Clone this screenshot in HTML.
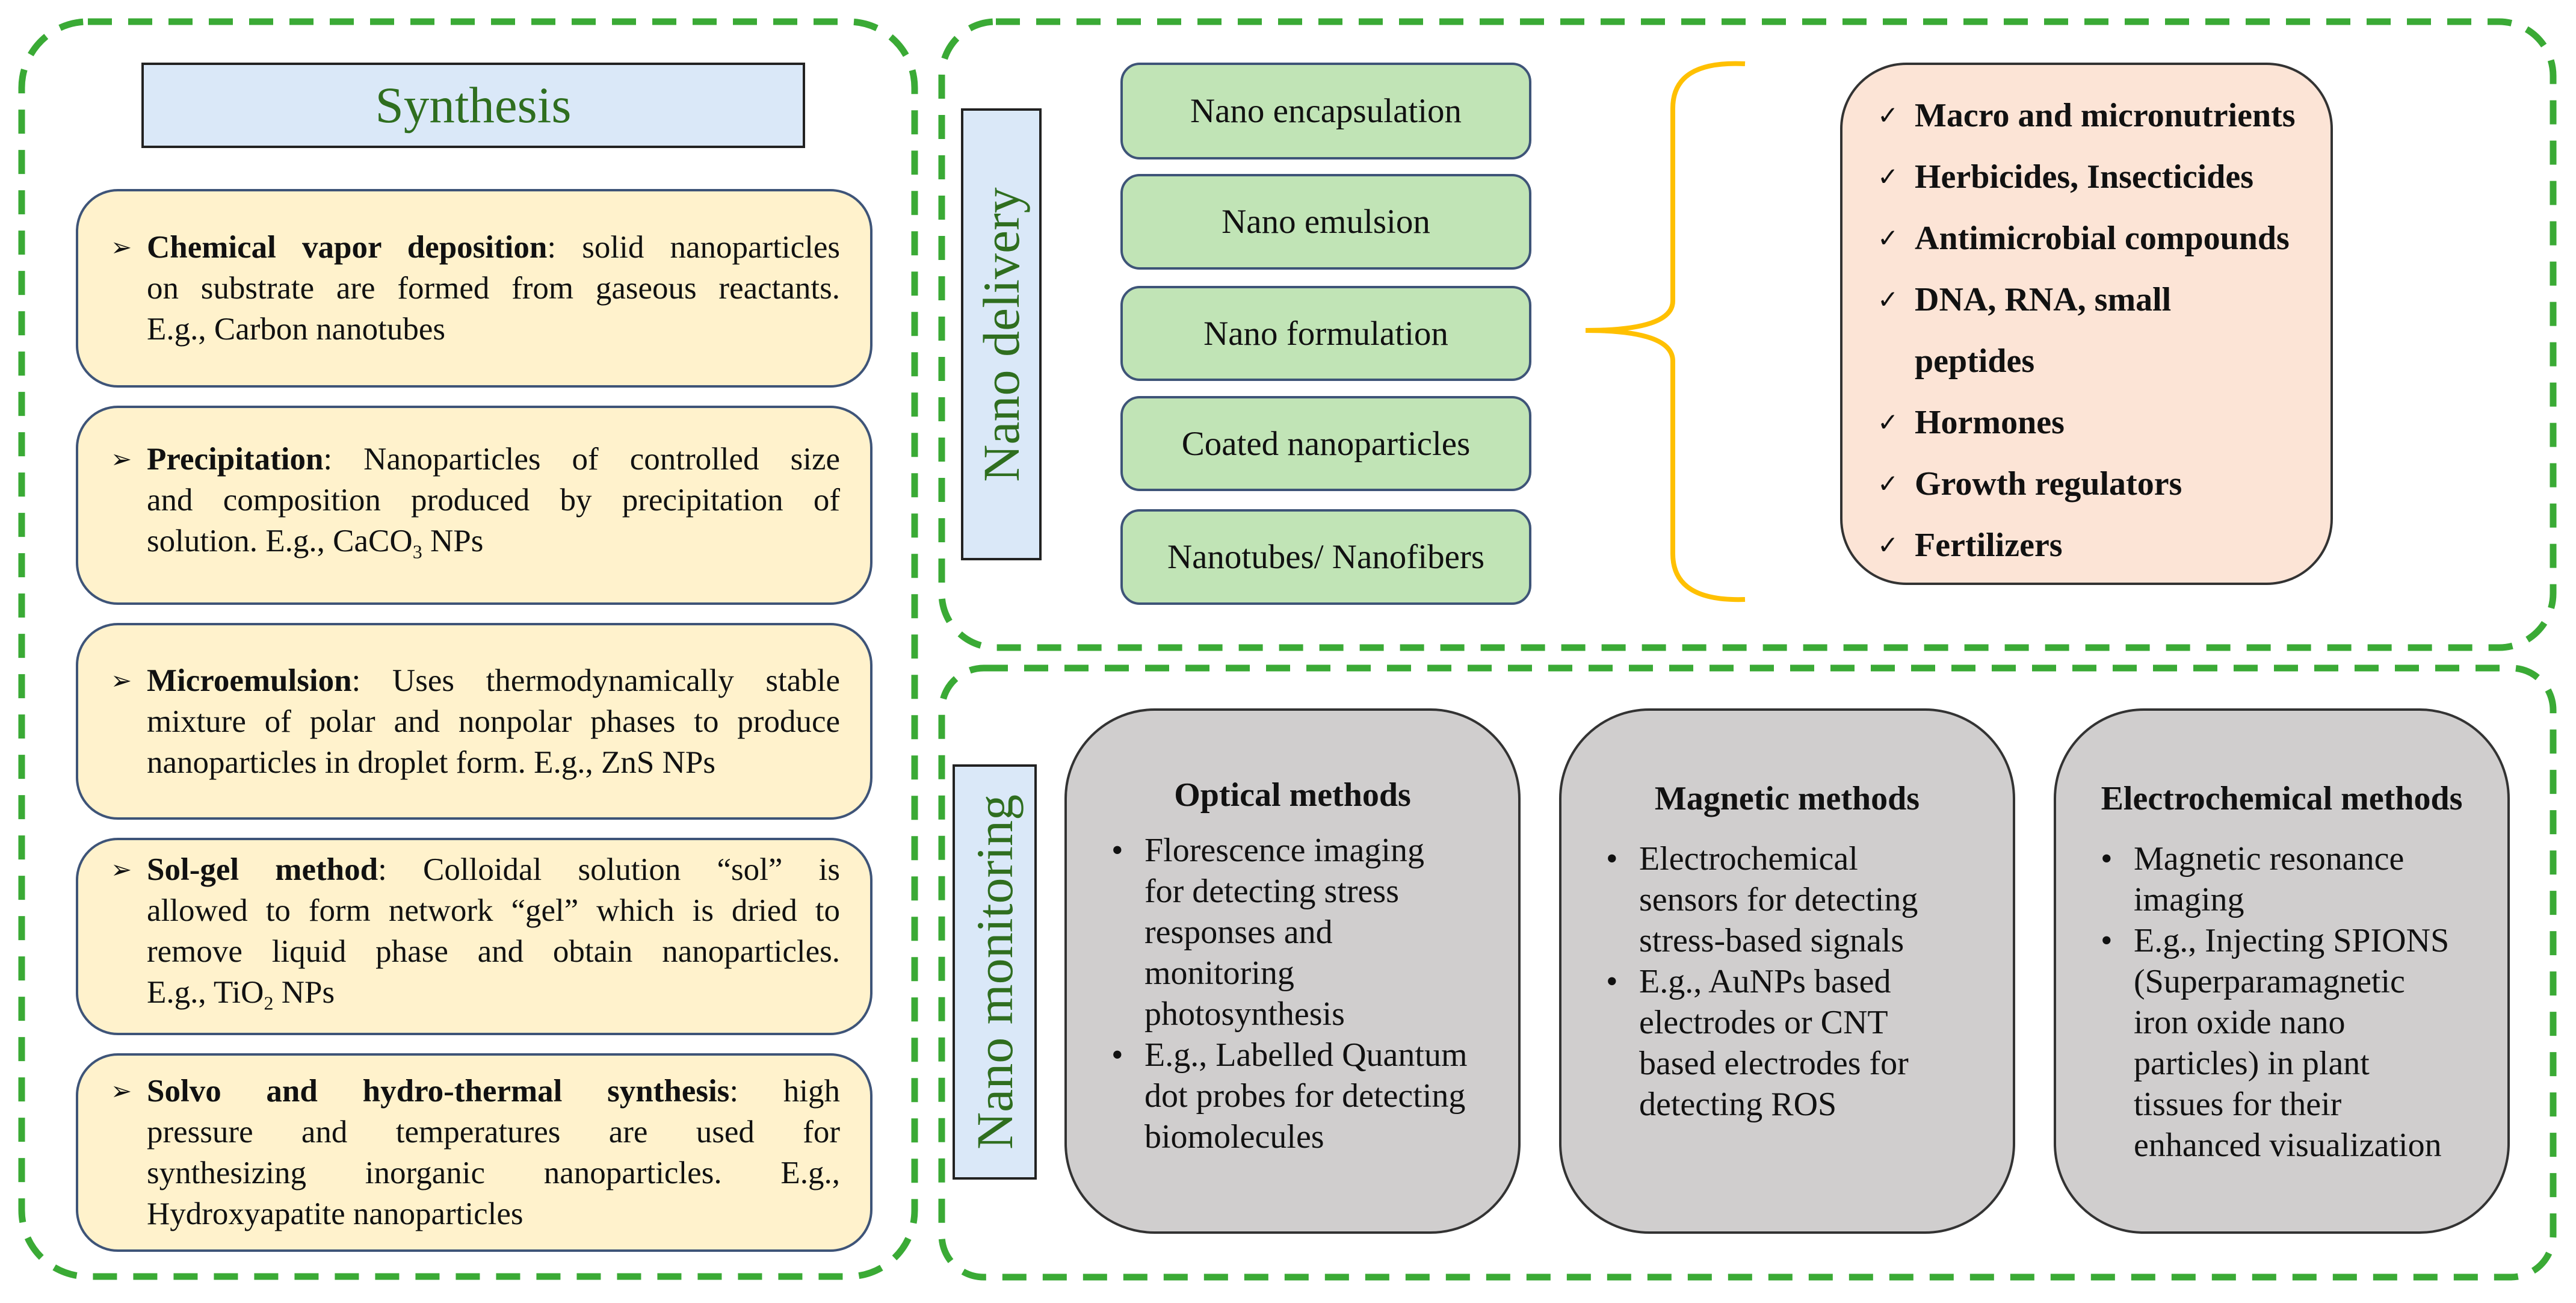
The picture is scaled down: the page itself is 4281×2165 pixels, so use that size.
<!DOCTYPE html>
<html><head><meta charset="utf-8"><style>
*{margin:0;padding:0;box-sizing:border-box}
body{width:4281px;height:2165px;background:#fff;position:relative;overflow:hidden;font-family:"Liberation Serif",serif;color:#111}
.a{position:absolute}
.syn{left:235px;top:104px;width:1103px;height:142px;background:#dae8f8;border:4px solid #222;display:flex;align-items:center;justify-content:center;color:#2f6e1f;font-size:85px}
.y{position:absolute;left:126px;width:1324px;background:#fff2cc;border:4px solid #3e5478;border-radius:70px;display:flex;align-items:center;padding:0 50px 0 54px;font-size:53px;line-height:68px}
.y .t{padding-left:60px;position:relative;width:100%;white-space:nowrap}
.y .t div{text-align:justify;text-align-last:justify}
.y .t div.l{text-align-last:left}
.y .t:before{content:"\27A2";position:absolute;left:0;top:0;font-size:42px;font-family:"DejaVu Sans",sans-serif}
.g{position:absolute;left:1862px;width:683px;background:#c1e4b6;border:4px solid #3e5478;border-radius:32px;display:flex;align-items:center;justify-content:center;font-size:57px}
.vl{position:absolute;background:#dae8f8;border:4px solid #222;}
.vl span{position:absolute;left:50%;top:50%;transform:translate(-50%,-50%) rotate(-90deg);white-space:nowrap;color:#2f6e1f;font-size:86px}
.pe{left:3058px;top:104px;width:819px;height:868px;background:#fce4d6;border:4px solid #333;border-radius:110px;padding:50px 0 0 58px;font-weight:bold;font-size:56px;white-space:nowrap}
.pe div{height:102px;line-height:68px;position:relative;padding-left:62px}
.pe div.c:before{content:"\2713";position:absolute;left:0;font-weight:normal;font-family:"DejaVu Sans",sans-serif;font-size:42px}
.gr{position:absolute;top:1177px;height:873px;width:758px;background:#d0cece;border:4px solid #333;border-radius:150px;font-size:56px;line-height:68px;padding:0 20px 0 74px;white-space:nowrap}
.gr h3{font-size:56px;text-align:center;margin-left:-54px;line-height:68px}
.gr ul{list-style:none}
.gr li{position:relative;padding-left:55px}
.gr li:before{content:"\2022";position:absolute;left:0}
</style></head><body>
<svg class="a" style="left:0;top:0" width="4281" height="2165">
<g fill="none" stroke="#3aaa35" stroke-width="11" stroke-dasharray="40 27">
<rect x="36" y="36" width="1484" height="2085" rx="110"/>
<rect x="1565" y="36" width="2678" height="1040" rx="90"/>
<rect x="1565" y="1110" width="2678" height="1012" rx="70"/>
</g>
<path d="M2900 106 Q2780 100 2780 180 L2780 500 Q2780 549 2635 549 Q2780 549 2780 600 L2780 920 Q2780 1000 2900 996" fill="none" stroke="#ffc000" stroke-width="8"/>
</svg>
<div class="a syn">Synthesis</div>
<div class="y" style="top:314px;height:330px"><div class="t"><div><b>Chemical vapor deposition</b>: solid nanoparticles</div><div>on substrate are formed from gaseous reactants.</div><div class="l">E.g., Carbon nanotubes</div></div></div>
<div class="y" style="top:674px;height:331px"><div class="t"><div><b>Precipitation</b>: Nanoparticles of controlled size</div><div>and composition produced by precipitation of</div><div class="l">solution. E.g., CaCO<sub style="font-size:32px">3</sub> NPs</div></div></div>
<div class="y" style="top:1035px;height:327px"><div class="t"><div><b>Microemulsion</b>: Uses thermodynamically stable</div><div>mixture of polar and nonpolar phases to produce</div><div class="l">nanoparticles in droplet form. E.g., ZnS NPs</div></div></div>
<div class="y" style="top:1392px;height:328px"><div class="t"><div><b>Sol-gel method</b>: Colloidal solution “sol” is</div><div>allowed to form network “gel” which is dried to</div><div>remove liquid phase and obtain nanoparticles.</div><div class="l">E.g., TiO<sub style="font-size:32px">2</sub> NPs</div></div></div>
<div class="y" style="top:1750px;height:330px"><div class="t"><div><b>Solvo and hydro-thermal synthesis</b>: high</div><div>pressure and temperatures are used for</div><div>synthesizing inorganic nanoparticles. E.g.,</div><div class="l">Hydroxyapatite nanoparticles</div></div></div>

<div class="vl" style="left:1597px;top:180px;width:134px;height:751px"><span>Nano delivery</span></div>
<div class="g" style="top:104px;height:161px">Nano encapsulation</div>
<div class="g" style="top:289px;height:159px">Nano emulsion</div>
<div class="g" style="top:475px;height:158px">Nano formulation</div>
<div class="g" style="top:658px;height:158px">Coated nanoparticles</div>
<div class="g" style="top:846px;height:159px">Nanotubes/ Nanofibers</div>
<div class="a pe">
<div class="c">Macro and micronutrients</div>
<div class="c">Herbicides, Insecticides</div>
<div class="c">Antimicrobial compounds</div>
<div class="c">DNA, RNA, small</div>
<div>peptides</div>
<div class="c">Hormones</div>
<div class="c">Growth regulators</div>
<div class="c">Fertilizers</div>
</div>

<div class="vl" style="left:1583px;top:1270px;width:140px;height:690px"><span>Nano monitoring</span></div>
<div class="gr" style="left:1769px;padding-top:106px"><h3>Optical methods</h3><ul style="margin-top:24px"><li>Florescence imaging<br>for detecting stress<br>responses and<br>monitoring<br>photosynthesis</li><li>E.g., Labelled Quantum<br>dot probes for detecting<br>biomolecules</li></ul></div>
<div class="gr" style="left:2591px;padding-top:112px"><h3>Magnetic methods</h3><ul style="margin-top:32px"><li>Electrochemical<br>sensors for detecting<br>stress-based signals</li><li>E.g., AuNPs based<br>electrodes or CNT<br>based electrodes for<br>detecting ROS</li></ul></div>
<div class="gr" style="left:3413px;padding-top:112px"><h3 style="margin-left:-54px">Electrochemical methods</h3><ul style="margin-top:32px"><li>Magnetic resonance<br>imaging</li><li>E.g., Injecting SPIONS<br>(Superparamagnetic<br>iron oxide nano<br>particles) in plant<br>tissues for their<br>enhanced visualization</li></ul></div>
</body></html>
